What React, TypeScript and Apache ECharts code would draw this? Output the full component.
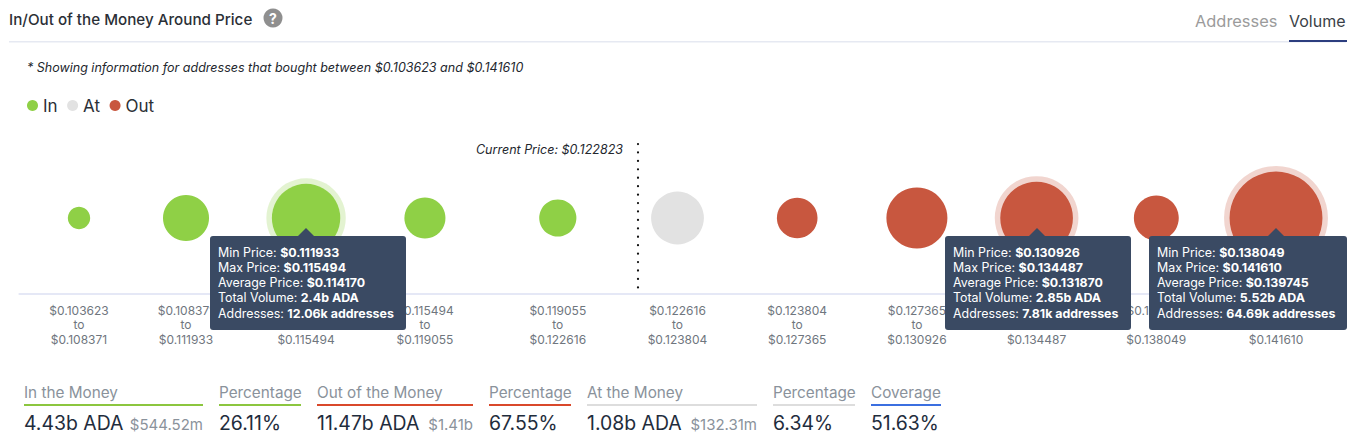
import React, { useEffect, useRef } from "react";
import * as echarts from "echarts";

// ---- data ----
const rangeFrom = ["$0.103623","$0.108371","$0.111933","$0.115494","$0.119055","$0.122616","$0.123804","$0.127365","$0.130926","$0.134487","$0.138049"];
const rangeTo = ["$0.108371","$0.111933","$0.115494","$0.119055","$0.122616","$0.123804","$0.127365","$0.130926","$0.134487","$0.138049","$0.141610"];
// bucket slots on the axis (the source spaces its first buckets slightly tighter)
const bucketSlots = [0, 0.894, 1.897, 2.89, 4, 5, 6, 7, 8, 9, 10];
// volume per bucket, in billions of ADA
const inVolumes = [0.002, 0.67, 2.4, 0.43, 0.28];
const atVolumes = [1.08];
const outVolumes = [0.41, 1.71, 2.85, 0.61, 5.52];
const highlightedBuckets = [2, 8, 10];
const currentPriceSlot = 4.67;
const currentPriceLabel = "Current Price: $0.122823";
const noteText = "* Showing information for addresses that bought between $0.103623 and $0.141610";
const titleText = "In/Out of the Money Around Price";
const tabs = ["Addresses", "Volume"];

const tipMin = ["$0.111933", "$0.130926", "$0.138049"];
const tipMax = ["$0.115494", "$0.134487", "$0.141610"];
const tipAvg = ["$0.114170", "$0.131870", "$0.139745"];
const tipVol = ["2.4b ADA", "2.85b ADA", "5.52b ADA"];
const tipAddr = ["12.06k addresses", "7.81k addresses", "64.69k addresses"];

const statHeads = ["In the Money","Percentage","Out of the Money","Percentage","At the Money","Percentage","Coverage"];
const statMain = ["4.43b ADA","26.11%","11.47b ADA","67.55%","1.08b ADA","6.34%","51.63%"];
const statSide = ["$544.52m","","$1.41b","","$132.31m","",""];

// ---- layout & style ----
const FONT = "Inter, 'Noto Sans', sans-serif";
const GREEN = "#8FD046";
const RED = "#C8573F";
const GREY = "#E2E2E2";
const statX = [24, 219, 317, 489, 587, 773, 871];
const statEnd = [203, 301, 473, 571, 757, 855, 941];
const statColor = ["#8CC63F","#8CC63F","#D9482B","#D9482B","#DDDDDD","#DDDDDD","#3B6FE0"];
const tipBox = [[210, 406], [945, 1131], [1149, 1347]];
const tipArrow = [306, 1037, 1276];

const bubble = (v: number) => 21 + 30.6 * Math.sqrt(v);

const txt = (x: number, y: number, text: string, font: string, fill: string, extra: any = {}) => ({
  type: "text", x, y, z: extra.z ?? 20, silent: true,
  style: { text, font, fill, textVerticalAlign: "middle", textAlign: extra.align ?? "left", ...(extra.style ?? {}) },
});

function buildGraphic() {
  const g: any[] = [];
  g.push(txt(9, 19, titleText, `500 15.2px ${FONT}`, "#2b2f36"));
  g.push({ type: "circle", z: 20, shape: { cx: 273, cy: 18, r: 9.5 }, style: { fill: "#8F8F8F" } });
  g.push(txt(273, 18.5, "?", `700 14px ${FONT}`, "#fff", { align: "center" }));
  g.push({ type: "rect", z: 20, shape: { x: 9, y: 41, width: 1337, height: 1.5 }, style: { fill: "#E6E9F2" } });
  g.push(txt(1195, 21, tabs[0], `400 16.4px ${FONT}`, "#9B9B9B"));
  g.push(txt(1289, 21, tabs[1], `400 16px ${FONT}`, "#3A3F47"));
  g.push({ type: "rect", z: 21, shape: { x: 1289, y: 40, width: 58, height: 2 }, style: { fill: "#2C3E7F" } });
  g.push(txt(27, 67, noteText, `italic 400 12.53px ${FONT}`, "#23272e"));
  g.push(txt(623, 149, currentPriceLabel, `italic 400 12.5px ${FONT}`, "#23272e", { align: "right" }));

  statHeads.forEach((h, i) => {
    g.push(txt(statX[i], 392, h, `400 15.3px ${FONT}`, "#8A929B"));
    g.push({ type: "rect", z: 20, shape: { x: statX[i], y: 404, width: statEnd[i] - statX[i], height: 2 }, style: { fill: statColor[i] } });
    g.push(txt(statX[i], 423, statMain[i], `400 19.4px ${FONT}`, "#1F2D3D"));
    if (statSide[i]) g.push(txt(statEnd[i], 424, statSide[i], `400 15px ${FONT}`, "#8A929B", { align: "right" }));
  });

  tipBox.forEach(([a, b], i) => {
    g.push({ type: "rect", z: 30, shape: { x: a, y: 236, width: b - a, height: 94, r: 3 }, style: { fill: "#3A4A63" } });
    const c = tipArrow[i];
    g.push({ type: "polygon", z: 30, shape: { points: [[c - 8, 236], [c, 228], [c + 8, 236]] }, style: { fill: "#3A4A63" } });
    const rows = [["Min Price: ", tipMin[i]], ["Max Price: ", tipMax[i]], ["Average Price: ", tipAvg[i]], ["Total Volume: ", tipVol[i]], ["Addresses: ", tipAddr[i]]];
    rows.forEach(([l, v], r) => {
      g.push({
        type: "text", z: 31, x: a + 8, y: 252 + r * 15.25, silent: true,
        style: {
          text: `{l|${l}}{b|${v}}`, textVerticalAlign: "middle",
          rich: {
            l: { font: `400 12.4px ${FONT}`, fill: "#fff" },
            b: { font: `700 12.4px ${FONT}`, fill: "#fff" },
          },
        },
      });
    });
  });
  return g;
}

const points = (vals: number[], start: number) => vals.map((v, i) => [bucketSlots[start + i], 0, v]);

export default function App() {
  const ref = useRef<HTMLDivElement>(null);
  useEffect(() => {
    if (!ref.current) return;
    const chart = echarts.init(ref.current, undefined, { renderer: "svg" });
    const size = (val: number[]) => bubble(val[2]);
    const all = [...inVolumes, ...atVolumes, ...outVolumes];
    chart.setOption({
      animation: false,
      backgroundColor: "#fff",
      textStyle: { fontFamily: FONT },
      legend: {
        left: 22, top: 92, itemWidth: 11, itemHeight: 11, itemGap: 9.5, icon: "circle",
        data: ["In", "At", "Out"],
        selectedMode: false,
        textStyle: { fontSize: 17, color: "#2b2f36", fontFamily: FONT },
      },
      grid: { left: 19.15, right: 19.15, top: 142, height: 152 },
      xAxis: {
        type: "value", min: -0.5, max: 10.5,
        axisLine: { show: true, onZero: false, lineStyle: { color: "#DDE1F3", width: 1.5 } },
        axisTick: { show: false },
        splitLine: { show: false },
        axisLabel: {
          customValues: bucketSlots,
          margin: 9,
          fontSize: 12, lineHeight: 14.6, color: "#6F767E", fontFamily: FONT,
          hideOverlap: false,
          formatter: (v: number) => {
            const i = bucketSlots.indexOf(v);
            return i < 0 ? "" : `${rangeFrom[i]}\nto\n${rangeTo[i]}`;
          },
        },
      },
      yAxis: { type: "value", min: -1, max: 1, show: false },
      series: [
        {
          name: "Highlight", type: "scatter", silent: true, z: 1,
          data: highlightedBuckets.map((b) => [bucketSlots[b], 0, all[b]]),
          symbolSize: (val: number[]) => bubble(val[2]) + 11,
          itemStyle: {
            opacity: 1,
            color: (p: any) => (p.dataIndex === 0 ? "rgba(143,208,70,0.25)" : "rgba(200,87,63,0.25)"),
          },
        },
        { name: "In", type: "scatter", z: 2, data: points(inVolumes, 0), symbolSize: size, itemStyle: { color: GREEN, opacity: 1 } },
        {
          name: "At", type: "scatter", z: 2, data: points(atVolumes, 5), symbolSize: size, itemStyle: { color: GREY, opacity: 1 },
          markLine: {
            silent: true, symbol: "none", label: { show: false },
            lineStyle: { color: "#111", width: 2.2, type: [0.1, 8.33], cap: "round" },
            data: [[{ coord: [currentPriceSlot, 0.974] }, { coord: [currentPriceSlot, -1] }]],
          },
        },
        { name: "Out", type: "scatter", z: 2, data: points(outVolumes, 6), symbolSize: size, itemStyle: { color: RED, opacity: 1 } },
      ],
      graphic: { elements: buildGraphic() },
    });
    return () => chart.dispose();
  }, []);
  return <div ref={ref} style={{ position: "fixed", left: 0, top: 0, width: 1355, height: 447 }} />;
}
